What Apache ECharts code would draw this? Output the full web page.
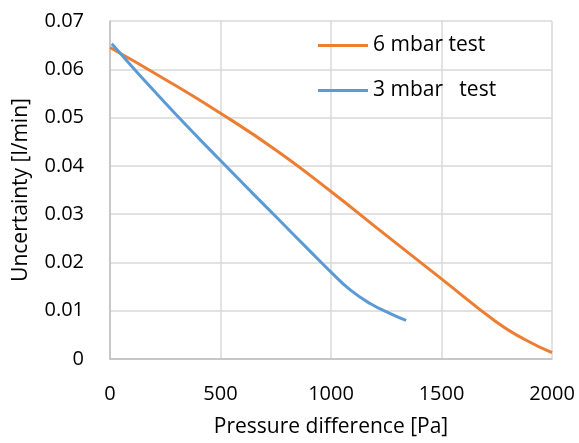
<!DOCTYPE html>
<html>
<head>
<meta charset="utf-8">
<script src="https://cdn.jsdelivr.net/npm/echarts@6/dist/echarts.min.js"></script>
<style>
  html, body { margin: 0; padding: 0; background: #fff; }
  #chart { width: 579px; height: 443px; }
</style>
</head>
<body>
<div id="chart"></div>
<script>
// Measured uncertainty versus pressure difference for two test runs
const seriesNames = ['6 mbar test', '3 mbar   test'];

const pressure6 = [0, 250, 500, 750, 1000, 1250, 1500, 1750, 1875, 2000];
const uncert6   = [0.0645, 0.0579, 0.0509, 0.0433, 0.0347, 0.0256, 0.0166, 0.0076, 0.0041, 0.0013];

const pressure3 = [8, 250, 500, 750, 906, 1000, 1087, 1177, 1268, 1340];
const uncert3   = [0.0653, 0.0530, 0.0411, 0.0295, 0.0223, 0.0180, 0.0143, 0.0115, 0.0094, 0.0080];

const xTicks = { min: 0, max: 2000, interval: 500 };
const yTicks = { min: 0, max: 0.07, interval: 0.01 };

const pairs = (xs, ys) => xs.map((x, i) => [x, ys[i]]);

const font = 'Open Sans';
const chart = echarts.init(document.getElementById('chart'), null, { renderer: 'canvas' });

chart.setOption({
  animation: false,
  backgroundColor: '#ffffff',
  textStyle: { fontFamily: font, color: '#000' },
  grid: { left: 110, right: 27, top: 21, bottom: 82, containLabel: false },
  legend: {
    orient: 'vertical',
    left: 318,
    top: 35,
    padding: 0,
    itemWidth: 50,
    itemHeight: 3,
    itemGap: 24,
    icon: 'rect',
    textStyle: { fontFamily: font, fontSize: 21, color: '#000' },
    data: seriesNames
  },
  xAxis: {
    type: 'value',
    min: xTicks.min, max: xTicks.max, interval: xTicks.interval,
    name: 'Pressure difference [Pa]',
    nameLocation: 'middle',
    nameGap: 58,
    nameTextStyle: { fontFamily: font, fontSize: 21, color: '#000' },
    axisLine: { show: true, lineStyle: { color: '#bfbfbf', width: 1.5 } },
    axisTick: { show: false },
    axisLabel: {
      fontFamily: font, fontSize: 20, color: '#000', margin: 25,
      formatter: v => String(v)
    },
    splitLine: { show: true, lineStyle: { color: '#d9d9d9', width: 1.5 } }
  },
  yAxis: {
    type: 'value',
    min: yTicks.min, max: yTicks.max, interval: yTicks.interval,
    name: 'Uncertainty [l/min]',
    nameLocation: 'middle',
    nameGap: 78,
    nameRotate: 90,
    nameTextStyle: { fontFamily: font, fontSize: 21, color: '#000' },
    axisLine: { show: true, lineStyle: { color: '#bfbfbf', width: 1.5 } },
    axisTick: { show: false },
    axisLabel: {
      fontFamily: font, fontSize: 20, color: '#000', margin: 26,
      formatter: v => (v === 0 ? '0' : v.toFixed(2))
    },
    splitLine: { show: true, lineStyle: { color: '#d9d9d9', width: 1.5 } }
  },
  series: [
    {
      name: seriesNames[0],
      type: 'line',
      data: pairs(pressure6, uncert6),
      smooth: true,
      showSymbol: false,
      symbol: 'none',
      color: '#ED7D31',
      lineStyle: { color: '#ED7D31', width: 3 },
      z: 3
    },
    {
      name: seriesNames[1],
      type: 'line',
      data: pairs(pressure3, uncert3),
      smooth: true,
      showSymbol: false,
      symbol: 'none',
      color: '#5B9BD5',
      lineStyle: { color: '#5B9BD5', width: 3 },
      z: 4
    }
  ]
});
</script>
</body>
</html>
